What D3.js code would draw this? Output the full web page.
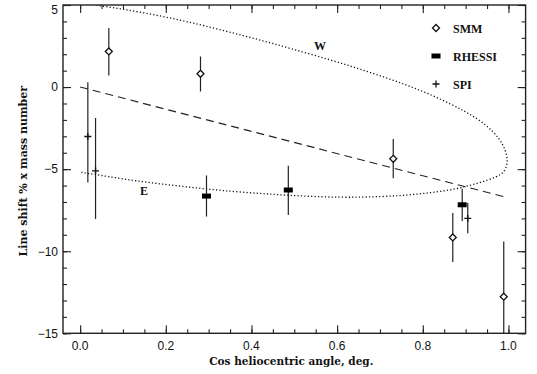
<!DOCTYPE html>
<html>
<head>
<script src="https://cdn.jsdelivr.net/npm/d3@7"></script>
<style>
  body { margin: 0; background: white; }
  .tick-label { font: 12px "Liberation Sans", Arial, sans-serif; fill: #111; }
  .title { font: bold 10.5px "DejaVu Serif", serif; fill: #111; }
  .ytitle { font: bold 11px "DejaVu Serif", serif; fill: #111; }
  .legend text, .branch { font: bold 12px "Liberation Serif", serif; fill: #111; }
</style>
</head>
<body>
<script>
// SMM (diamonds)
var smmX  = [0.067, 0.281, 0.731, 0.870, 0.989];
var smmY  = [2.17, 0.81, -4.37, -9.16, -12.77];
var smmLo = [0.70, -0.27, -5.55, -10.66, -16.1];
var smmHi = [3.60, 1.86, -3.17, -7.67, -9.40];

// RHESSI (filled bars)
var rhessiX  = [0.295, 0.486, 0.892];
var rhessiY  = [-6.64, -6.27, -7.17];
var rhessiLo = [-7.88, -7.80, -8.16];
var rhessiHi = [-5.38, -4.79, -6.20];

// SPI (plus)
var spiX  = [0.018, 0.036, 0.905];
var spiY  = [-3.01, -5.10, -8.00];
var spiLo = [-5.81, -8.04, -8.90];
var spiHi = [0.30, -1.89, -7.06];

// dashed line
var lineX = [0.0, 0.996];
var lineY = [0.0, -6.72];

// dotted loop (W upper branch -> tip -> E lower branch)
var loopX = [0.030, 0.047, 0.100, 0.180, 0.257, 0.334, 0.413, 0.490, 0.590, 0.670, 0.747, 0.824, 0.903, 0.950, 0.980, 0.994, 0.999, 0.992, 0.973, 0.933, 0.894, 0.856, 0.777, 0.707, 0.607, 0.485, 0.373, 0.294, 0.217, 0.140, 0.062, 0.0];
var loopY = [5.05, 4.95, 4.75, 4.38, 3.95, 3.45, 2.92, 2.36, 1.62, 0.96, 0.28, -0.50, -1.52, -2.32, -3.15, -3.90, -4.55, -5.15, -5.48, -5.83, -6.10, -6.32, -6.56, -6.68, -6.74, -6.60, -6.40, -6.21, -5.99, -5.75, -5.44, -5.18];

var xTicks = [0.0, 0.2, 0.4, 0.6, 0.8, 1.0];
var yTicks = [5, 0, -5, -10, -15];

var width = 537, height = 374;
var pLeft = 63, pTop = 5, pRight = 525.6, pBottom = 333.3;

var x = d3.scaleLinear().domain([-0.04, 1.04]).range([pLeft, pRight]);
var y = d3.scaleLinear().domain([-15, 5]).range([pBottom, pTop]);

var svg = d3.select("body").append("svg")
  .attr("width", width)
  .attr("height", height);

svg.append("defs").append("clipPath").attr("id", "clip")
  .append("rect")
  .attr("x", pLeft).attr("y", pTop)
  .attr("width", pRight - pLeft).attr("height", pBottom - pTop);

// axes: major + minor ticks, inward, on all four sides
var xMinor = d3.range(0, 1.0001, 0.05);
var yMinor = d3.range(-15, 5.0001, 1);

function axisGroup(axis, tx, ty) {
  var g = svg.append("g").attr("transform", "translate(" + tx + "," + ty + ")").call(axis);
  g.select(".domain").remove();
  g.selectAll("line").attr("stroke", "#222").attr("stroke-width", 1.1);
  return g;
}

axisGroup(d3.axisTop(x).tickValues(xMinor).tickSize(4).tickFormat(""), 0, pBottom);
axisGroup(d3.axisTop(x).tickValues(xTicks).tickSize(8).tickFormat(""), 0, pBottom);
axisGroup(d3.axisBottom(x).tickValues(xMinor).tickSize(4).tickFormat(""), 0, pTop);
axisGroup(d3.axisBottom(x).tickValues(xTicks).tickSize(8).tickFormat(""), 0, pTop);
axisGroup(d3.axisRight(y).tickValues(yMinor).tickSize(4).tickFormat(""), pLeft, 0);
axisGroup(d3.axisRight(y).tickValues(yTicks).tickSize(8).tickFormat(""), pLeft, 0);
axisGroup(d3.axisLeft(y).tickValues(yMinor).tickSize(4).tickFormat(""), pRight, 0);
axisGroup(d3.axisLeft(y).tickValues(yTicks).tickSize(8).tickFormat(""), pRight, 0);

svg.append("rect")
  .attr("x", pLeft).attr("y", pTop)
  .attr("width", pRight - pLeft).attr("height", pBottom - pTop)
  .attr("fill", "none").attr("stroke", "#222").attr("stroke-width", 1.4);

// tick labels
svg.selectAll(".xl").data(xTicks).enter().append("text")
  .attr("class", "tick-label")
  .attr("x", function(d) { return x(d); })
  .attr("y", pBottom + 17)
  .attr("text-anchor", "middle")
  .text(function(d) { return d.toFixed(1); });

svg.selectAll(".yl").data(yTicks).enter().append("text")
  .attr("class", "tick-label")
  .attr("x", pLeft - 5)
  .attr("y", function(d) { return Math.max(y(d) + 4.3, 13.5); })
  .attr("text-anchor", "end")
  .text(function(d) { return d < 0 ? "\u2212" + Math.abs(d) : d; });

// titles
svg.append("text").attr("class", "title")
  .attr("x", (pLeft + pRight) / 2 - 3).attr("y", 365)
  .attr("text-anchor", "middle")
  .text("Cos heliocentric angle, deg.");

svg.append("text").attr("class", "ytitle")
  .attr("transform", "translate(27," + ((pTop + pBottom) / 2 + 2) + ") rotate(-90)")
  .attr("text-anchor", "middle")
  .text("Line shift % x mass number");

var plot = svg.append("g").attr("clip-path", "url(#clip)");

// dotted loop
var loop = d3.range(loopX.length).map(function(i) { return [loopX[i], loopY[i]]; });
plot.append("path")
  .attr("d", d3.line().x(function(d) { return x(d[0]); }).y(function(d) { return y(d[1]); })
    .curve(d3.curveBasis)(loop))
  .attr("fill", "none").attr("stroke", "#111").attr("stroke-width", 1.3)
  .attr("stroke-dasharray", "1.2,2.2");

// dashed line
plot.append("line")
  .attr("x1", x(lineX[0])).attr("y1", y(lineY[0]))
  .attr("x2", x(lineX[1])).attr("y2", y(lineY[1]))
  .attr("stroke", "#222").attr("stroke-width", 1.1)
  .attr("stroke-dasharray", "8,5");

// error bars
function errorBars(xs, lo, hi) {
  plot.selectAll(null).data(xs).enter().append("line")
    .attr("x1", function(d) { return x(d); })
    .attr("x2", function(d) { return x(d); })
    .attr("y1", function(d, i) { return y(lo[i]); })
    .attr("y2", function(d, i) { return y(hi[i]); })
    .attr("stroke", "#222").attr("stroke-width", 1.2);
}
errorBars(smmX, smmLo, smmHi);
errorBars(rhessiX, rhessiLo, rhessiHi);
errorBars(spiX, spiLo, spiHi);

var diamond = "M0,-3.5L3.5,0L0,3.5L-3.5,0Z";
var plus = "M-3.5,0H3.5M0,-3.5V3.5";

plot.selectAll(null).data(smmX).enter().append("path")
  .attr("transform", function(d, i) { return "translate(" + x(d) + "," + y(smmY[i]) + ")"; })
  .attr("d", diamond)
  .attr("fill", "white").attr("stroke", "#111").attr("stroke-width", 1.3);

plot.selectAll(null).data(rhessiX).enter().append("rect")
  .attr("x", function(d) { return x(d) - 4.5; })
  .attr("y", function(d, i) { return y(rhessiY[i]) - 2.5; })
  .attr("width", 9).attr("height", 5)
  .attr("fill", "#000");

plot.selectAll(null).data(spiX).enter().append("path")
  .attr("transform", function(d, i) { return "translate(" + x(d) + "," + y(spiY[i]) + ")"; })
  .attr("d", plus)
  .attr("fill", "none").attr("stroke", "#111").attr("stroke-width", 1.3);

// branch labels
svg.append("text").attr("class", "branch").attr("x", 320).attr("y", 50)
  .attr("text-anchor", "middle").text("W");
svg.append("text").attr("class", "branch").attr("x", 144).attr("y", 195)
  .attr("text-anchor", "middle").text("E");

// legend
var legend = svg.append("g").attr("class", "legend");
var legendNames = ["SMM", "RHESSI", "SPI"];
legendNames.forEach(function(name, i) {
  var ly = 28 + i * 28;
  var g = legend.append("g").attr("transform", "translate(436," + ly + ")");
  if (i === 0) {
    g.append("path").attr("d", diamond).attr("fill", "white").attr("stroke", "#111").attr("stroke-width", 1.3);
  } else if (i === 1) {
    g.append("rect").attr("x", -4.5).attr("y", -2.5).attr("width", 9).attr("height", 5).attr("fill", "#000");
  } else {
    g.append("path").attr("d", plus).attr("stroke", "#111").attr("stroke-width", 1.3);
  }
  g.append("text").attr("x", 17).attr("y", 4.5).text(name);
});
</script>
</body>
</html>
